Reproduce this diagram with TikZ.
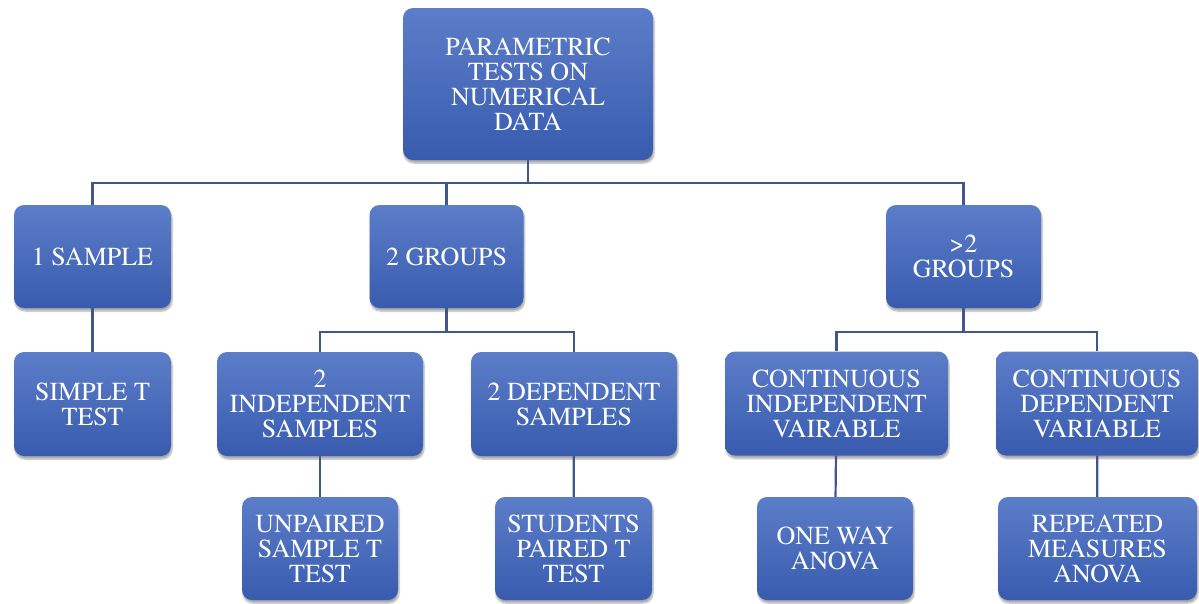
\documentclass[tikz,border=0pt]{standalone}
\usepackage{fontspec}
\newfontfamily\boxfont{texgyretermes}[Extension=.otf, UprightFont=*-regular]
\usetikzlibrary{shadows.blur}
\definecolor{boxtop}{RGB}{92,125,200}
\definecolor{boxbot}{RGB}{56,91,175}
\definecolor{linkcol}{RGB}{64,87,140}
\tikzset{
  box/.style={rectangle, rounded corners=10pt, top color=boxtop, bottom color=boxbot,
    draw=none, text=white, align=center, inner sep=2pt,
    font=\boxfont\fontsize{26}{25}\selectfont,
    blur shadow={shadow blur steps=6, shadow xshift=1pt, shadow yshift=-3pt, shadow opacity=35}},
  link/.style={draw=linkcol, line width=2.2pt}
}
\begin{document}
\begin{tikzpicture}[x=1pt,y=-1pt]
\useasboundingbox (0,0) rectangle (1199,603);
% top level
\node[box, minimum width=250pt, minimum height=152pt] (root) at (528,84) {PARAMETRIC\\TESTS ON\\NUMERICAL\\DATA};
% second level
\node[box, minimum width=157pt, minimum height=103pt] (s1) at (92.5,256.5) {1 SAMPLE};
\node[box, minimum width=154pt, minimum height=103pt] (g2) at (446.5,256.5) {2 GROUPS};
\node[box, minimum width=155pt, minimum height=103pt] (g3) at (963.5,256.5) {>2\\GROUPS};
% third level
\node[box, minimum width=157pt, minimum height=104pt] (stt) at (92.5,404) {SIMPLE T\\TEST};
\node[box, minimum width=206pt, minimum height=104pt] (ind) at (320,404) {2\\INDEPENDENT\\SAMPLES};
\node[box, minimum width=206pt, minimum height=104pt] (dep) at (574,404) {2 DEPENDENT\\SAMPLES};
\node[box, minimum width=223pt, minimum height=104pt] (cind) at (836.5,403.5) {CONTINUOUS\\INDEPENDENT\\VAIRABLE};
\node[box, minimum width=202pt, minimum height=104pt] (cdep) at (1097,403.5) {CONTINUOUS\\DEPENDENT\\VARIABLE};
% fourth level
\node[box, minimum width=156pt, minimum height=103pt] (unp) at (320,548.5) {UNPAIRED\\SAMPLE T\\TEST};
\node[box, minimum width=157pt, minimum height=103pt] (stu) at (573.5,548.5) {STUDENTS\\PAIRED T\\TEST};
\node[box, minimum width=156pt, minimum height=103pt] (owa) at (835,548.5) {ONE WAY\\ANOVA};
\node[box, minimum width=199pt, minimum height=103pt] (rma) at (1097.5,548.5) {REPEATED\\MEASURES\\ANOVA};
% bus levels
\coordinate (busA) at (0,183);
\coordinate (busB) at (0,332);
% connectors
\draw[link] (root.south) -- (root.south |- busA) -| (s1.north);
\draw[link] (root.south |- busA) -| (g2.north);
\draw[link] (root.south |- busA) -| (g3.north);
\draw[link] (g2.south) -- (g2.south |- busB) -| (ind.north);
\draw[link] (g2.south |- busB) -| (dep.north);
\draw[link] (g3.south) -- (g3.south |- busB) -| (cind.north);
\draw[link] (g3.south |- busB) -| (cdep.north);
\draw[link] (s1) -- (stt);
\draw[link] (ind) -- (unp);
\draw[link] (dep) -- (stu);
\draw[link] (cind) -- (owa);
\draw[link] (cdep) -- (rma);
\end{tikzpicture}
\end{document}
